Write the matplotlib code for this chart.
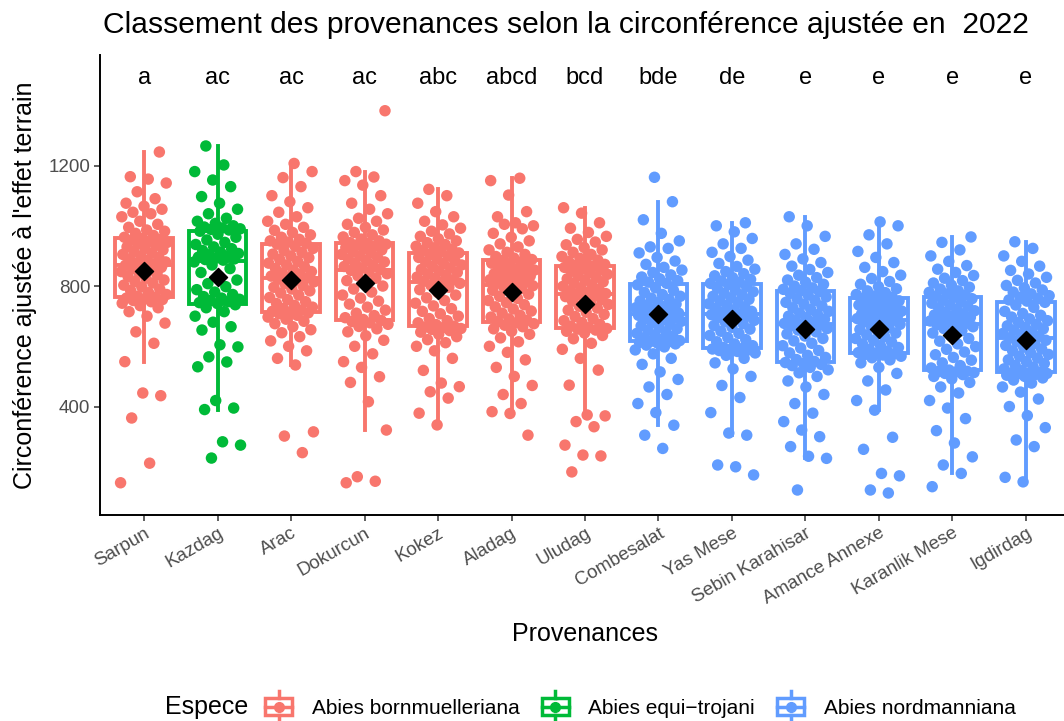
import numpy as np
import matplotlib.pyplot as plt
from matplotlib.patches import Patch, Rectangle
from matplotlib.lines import Line2D
from matplotlib.legend_handler import HandlerBase

plt.rcParams['font.family'] = ['Liberation Sans', 'DejaVu Sans']

# ---- data ----
provenances = ['Sarpun', 'Kazdag', 'Arac', 'Dokurcun', 'Kokez', 'Aladag', 'Uludag',
               'Combesalat', 'Yas Mese', 'Sebin Karahisar', 'Amance Annexe',
               'Karanlik Mese', 'Igdirdag']
especes = ['Abies bornmuelleriana', 'Abies equi\u2212trojani', 'Abies nordmanniana']
espece_of = [0, 1, 0, 0, 0, 0, 0, 2, 2, 2, 2, 2, 2]
lettres = ['a', 'ac', 'ac', 'ac', 'abc', 'abcd', 'bcd', 'bde', 'de', 'e', 'e', 'e', 'e']
couleurs = ['#F8766D', '#00BA38', '#619CFF']

sarpun = [147, 212, 362, 436, 445, 549, 610, 648, 677, 700, 715, 728, 735, 743, 748, 752, 755, 758, 760, 763,
          766, 772, 778, 785, 790, 797, 803, 810, 815, 820, 826, 832, 838, 843, 848, 853, 858, 862, 866, 869,
          872, 876, 880, 885, 890, 895, 900, 905, 910, 915, 920, 925, 930, 935, 940, 945, 948, 952, 955, 958,
          962, 968, 975, 982, 986, 995, 1005, 1015, 1030, 1040, 1045, 1055, 1065, 1075, 1090, 1113, 1142, 1155, 1163, 1245]
kazdag = [229, 272, 283, 390, 395, 420, 532, 548, 565, 598, 605, 654, 665, 680, 700, 715, 728, 738,
          742, 745, 748, 752, 756, 760, 765, 772, 780, 788, 798, 808, 820, 832, 845, 858, 870, 880,
          886, 888, 890, 893, 896, 900, 904, 908, 913, 918, 924, 930, 938, 945, 953, 962, 972, 982,
          986, 988, 990, 993, 996, 1000, 1008, 1015, 1025, 1040, 1055, 1075, 1097, 1130, 1152, 1180, 1202, 1265]
arac = [247, 302, 316, 538, 560, 585, 600, 618, 632, 645, 655, 665, 675, 683, 690, 697, 703, 708, 711, 714,
        716, 720, 725, 730, 736, 742, 748, 755, 762, 770, 777, 784, 790, 796, 802, 808, 814, 819, 823, 827,
        829, 833, 838, 843, 848, 853, 858, 864, 870, 876, 882, 888, 894, 900, 906, 912, 918, 925, 932, 939,
        942, 946, 950, 955, 962, 970, 978, 985, 995, 1005, 1015, 1030, 1045, 1060, 1080, 1100, 1130, 1160, 1180, 1207]
dokurcun = [147, 152, 167, 322, 416, 480, 499, 530, 549, 575, 600, 620, 635, 648, 658, 666, 673, 678, 682, 686,
            689, 695, 702, 710, 720, 730, 740, 750, 760, 770, 780, 790, 800, 810, 818, 826, 834, 841, 847, 852,
            855, 860, 865, 870, 875, 880, 885, 890, 895, 900, 905, 910, 915, 920, 924, 928, 932, 936, 939, 941,
            944, 950, 956, 963, 970, 978, 986, 995, 1005, 1015, 1025, 1040, 1055, 1075, 1100, 1135, 1150, 1162, 1180, 1382]
kokez = [339, 378, 428, 449, 466, 478, 520, 560, 585, 600, 612, 622, 632, 640, 647, 652, 656, 659, 662, 664,
         667, 672, 678, 685, 692, 700, 708, 716, 725, 734, 743, 752, 761, 770, 779, 788, 796, 803, 809, 813,
         816, 820, 825, 830, 835, 840, 845, 850, 855, 860, 865, 870, 875, 880, 885, 890, 895, 900, 905, 910,
         914, 918, 922, 927, 932, 938, 944, 950, 957, 965, 973, 982, 992, 1003, 1015, 1030, 1047, 1075, 1100, 1121]
aladag = [305, 377, 383, 410, 440, 470, 500, 530, 555, 580, 600, 615, 628, 640, 650, 658, 665, 670, 675, 678,
          682, 686, 691, 697, 703, 710, 717, 724, 731, 738, 745, 752, 759, 766, 773, 780, 786, 792, 797, 801,
          805, 809, 813, 817, 821, 825, 829, 833, 837, 841, 845, 849, 853, 857, 861, 866, 871, 876, 880, 885,
          888, 893, 898, 905, 912, 920, 930, 940, 950, 962, 975, 990, 1005, 1000, 1010, 1030, 1047, 1102, 1150, 1158]
uludag = [183, 236, 239, 272, 333, 350, 369, 372, 471, 521, 560, 590, 610, 625, 636, 644, 650, 654, 657, 659,
          662, 667, 673, 679, 685, 692, 699, 706, 713, 720, 727, 733, 739, 745, 750, 755, 760, 765, 769, 772,
          775, 779, 784, 789, 794, 799, 804, 809, 814, 819, 824, 829, 834, 839, 844, 849, 854, 858, 862, 865,
          868, 872, 876, 881, 886, 892, 898, 905, 912, 920, 928, 937, 946, 955, 965, 978, 992, 1010, 1042, 1060]
combesalat = [261, 305, 338, 380, 410, 440, 465, 490, 515, 540, 560, 575, 588, 598, 604, 608, 611, 613, 615, 616,
              619, 623, 628, 633, 638, 643, 648, 653, 658, 663, 668, 673, 678, 683, 688, 692, 696, 700, 703, 706,
              708, 710, 713, 716, 720, 724, 728, 732, 736, 740, 745, 750, 755, 760, 766, 772, 779, 786, 794, 804,
              809, 813, 818, 824, 830, 837, 845, 853, 862, 872, 883, 895, 910, 925, 930, 950, 975, 1020, 1080, 1161]
yas_mese = [173, 200, 206, 305, 312, 380, 430, 470, 500, 525, 545, 560, 570, 578, 583, 586, 588, 590, 591, 592,
            596, 602, 608, 615, 622, 629, 636, 643, 650, 657, 663, 669, 675, 681, 686, 691, 696, 700, 703, 705,
            708, 712, 716, 721, 726, 731, 736, 741, 746, 751, 756, 761, 766, 771, 776, 781, 787, 793, 799, 805,
            809, 813, 817, 822, 828, 834, 841, 848, 856, 865, 875, 886, 898, 912, 925, 940, 958, 980, 1000, 1010]
sebin = [123, 228, 235, 267, 300, 322, 350, 378, 410, 440, 465, 485, 500, 512, 522, 530, 536, 540, 543, 546,
         550, 556, 563, 570, 578, 586, 594, 602, 610, 618, 626, 634, 641, 648, 654, 659, 664, 668, 671, 673,
         676, 680, 685, 690, 695, 700, 705, 710, 716, 722, 728, 734, 740, 746, 752, 758, 764, 770, 776, 782,
         785, 789, 794, 800, 806, 813, 820, 828, 836, 845, 855, 866, 878, 890, 905, 922, 940, 965, 1000, 1030]
amance = [113, 123, 170, 178, 258, 298, 388, 420, 455, 485, 510, 530, 545, 555, 562, 567, 571, 573, 575, 576,
          579, 584, 590, 596, 602, 608, 614, 620, 626, 632, 638, 644, 650, 656, 662, 668, 673, 678, 682, 686,
          689, 692, 695, 698, 701, 704, 707, 710, 713, 717, 721, 725, 729, 733, 737, 741, 746, 751, 755, 760,
          763, 767, 772, 778, 784, 791, 798, 806, 815, 825, 836, 848, 862, 878, 895, 915, 940, 970, 1000, 1013]
karanlik = [134, 178, 206, 233, 279, 320, 360, 395, 420, 445, 465, 480, 492, 500, 506, 510, 513, 515, 516, 517,
            521, 528, 536, 545, 554, 563, 572, 581, 590, 599, 608, 617, 626, 635, 644, 652, 659, 665, 669, 672,
            676, 680, 684, 688, 692, 696, 700, 704, 708, 713, 718, 723, 728, 733, 738, 743, 748, 753, 758, 763,
            766, 770, 774, 779, 784, 790, 796, 803, 810, 818, 826, 835, 845, 856, 868, 882, 900, 920, 945, 963]
igdirdag = [150, 165, 267, 289, 330, 370, 400, 425, 448, 465, 478, 488, 495, 500, 504, 507, 509, 510, 511, 511,
            514, 519, 525, 531, 537, 543, 549, 555, 561, 567, 573, 579, 585, 591, 597, 603, 609, 615, 620, 624,
            628, 633, 638, 643, 648, 653, 658, 663, 668, 673, 679, 685, 691, 697, 703, 709, 716, 729, 737, 746,
            750, 754, 758, 763, 768, 774, 780, 787, 794, 802, 810, 819, 829, 840, 852, 866, 882, 900, 925, 947]

valeurs = [sarpun, kazdag, arac, dokurcun, kokez, aladag, uludag,
           combesalat, yas_mese, sebin, amance, karanlik, igdirdag]


class HandlerBox(HandlerBase):
    # boxplot + point key, like ggplot's legend glyph
    def create_artists(self, legend, orig_handle, xdescent, ydescent,
                       width, height, fontsize, trans):
        c = orig_handle.get_facecolor()
        x0, x1 = -xdescent + 0.1 * width, -xdescent + 0.9 * width
        xm = -xdescent + width / 2
        yb, yt = -ydescent + 0.1 * height, -ydescent + 0.9 * height
        ym = -ydescent + height / 2
        box = Rectangle((x0, yb), x1 - x0, yt - yb, facecolor='white',
                        edgecolor=c, lw=2.5, transform=trans)
        w1 = Line2D([xm, xm], [yt, yt + 0.35 * height], color=c, lw=2.5, transform=trans)
        w2 = Line2D([xm, xm], [yb - 0.35 * height, yb], color=c, lw=2.5, transform=trans)
        med = Line2D([x0, x1], [ym, ym], color=c, lw=2.5, transform=trans)
        dot = Line2D([xm], [ym], marker='o', ms=7, color=c, lw=0, transform=trans)
        return [box, w1, w2, med, dot]


fig = plt.figure(figsize=(10.64, 7.21), dpi=100)
ax = fig.add_axes([100 / 1064, 1 - 515 / 721, 970 / 1064, 460 / 721])

for i, vals in enumerate(valeurs):
    pos = i + 1
    col = couleurs[espece_of[i]]
    ax.boxplot([vals], positions=[pos], widths=0.78, patch_artist=True,
               showcaps=False, showfliers=False,
               boxprops=dict(facecolor='white', edgecolor=col, lw=2.8),
               whiskerprops=dict(color=col, lw=2.8),
               medianprops=dict(color=col, lw=2.8),
               zorder=2)
    n = len(vals)
    jit = ((np.arange(n) * 0.618034 + 0.37 * i) % 1 - 0.5) * 0.64
    ax.scatter(pos + jit, vals, s=68, color=col, edgecolors='none', zorder=3)
    ax.scatter([pos], [np.mean(vals)], marker='D', s=85, color='black', zorder=4)
    ax.text(pos, 1490, lettres[i], ha='center', va='center', fontsize=17)

ax.set_xlim(0.4, 13.6)
ax.set_ylim(40, 1567)
ax.set_yticks([400, 800, 1200])
ax.set_xticks(range(1, 14))
ax.set_xticklabels(provenances, rotation=30, ha='right', va='top', rotation_mode='anchor')
ax.tick_params(length=4, width=1.1, color='#333333', labelcolor='#4D4D4D', labelsize=13.5, pad=3)
for s in ['top', 'right']:
    ax.spines[s].set_visible(False)
for s in ['left', 'bottom']:
    ax.spines[s].set_linewidth(1.4)
    ax.spines[s].set_color('black')

ax.set_xlabel('Provenances', fontsize=18, labelpad=10)
ax.set_ylabel("Circonférence ajustée à l'effet terrain", fontsize=18, labelpad=8)
fig.text(103 / 1064, 1 - 25 / 721, 'Classement des provenances selon la circonférence ajustée en  2022',
         fontsize=21.6, ha='left', va='center')

# legend at the bottom
fig.text(165 / 1064, 1 - 707 / 721, 'Espece', fontsize=18, ha='left', va='center')
handles = [Patch(facecolor=c) for c in couleurs]
fig.legend(handles, especes, handler_map={Patch: HandlerBox()}, ncol=3, frameon=False,
           loc='center left', bbox_to_anchor=(262 / 1064, 1 - 707 / 721), fontsize=15,
           handlelength=1.6, handleheight=1.2, handletextpad=0.8, columnspacing=0.9,
           borderpad=0, borderaxespad=0)

fig.savefig('out.png', dpi=100)
